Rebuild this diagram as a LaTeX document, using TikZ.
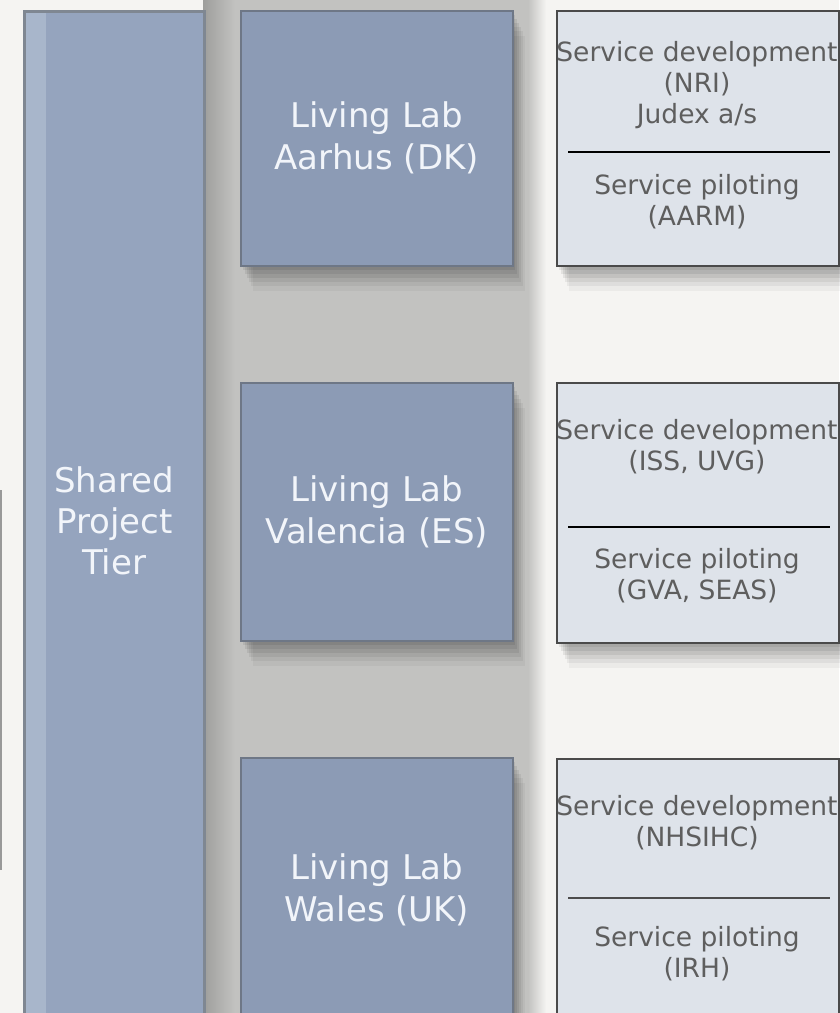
\documentclass[tikz,border=0pt]{standalone}
\usepackage{fontspec}
\setmainfont{DejaVu Sans}
\usetikzlibrary{shadows}
\definecolor{bgc}{HTML}{F5F4F2}
\definecolor{bandc}{HTML}{C2C2C0}
\definecolor{bandshade}{HTML}{9E9E9C}
\definecolor{sharedfill}{HTML}{95A4BE}
\definecolor{sharedstrip}{HTML}{A8B6CB}
\definecolor{sharededge}{HTML}{7F8792}
\definecolor{labfill}{HTML}{8C9BB5}
\definecolor{labedge}{HTML}{6E7786}
\definecolor{svcfill}{HTML}{DEE3EA}
\definecolor{svcedge}{HTML}{4A4A4A}
\definecolor{svctext}{HTML}{5E5E5E}
\definecolor{labtext}{HTML}{F2F5FA}
\tikzset{
  softshadow/.style={
    drop shadow={shadow xshift=2pt, shadow yshift=-4pt, opacity=0.07, fill=black},
    drop shadow={shadow xshift=4pt, shadow yshift=-8pt, opacity=0.07, fill=black},
    drop shadow={shadow xshift=6pt, shadow yshift=-12pt, opacity=0.07, fill=black},
    drop shadow={shadow xshift=8pt, shadow yshift=-16pt, opacity=0.06, fill=black},
    drop shadow={shadow xshift=10pt, shadow yshift=-20pt, opacity=0.05, fill=black},
    drop shadow={shadow xshift=12pt, shadow yshift=-25pt, opacity=0.04, fill=black}},
  sharedbox/.style={draw=sharededge, line width=2.5pt, fill=sharedfill,
    text=labtext, align=center, inner sep=0pt,
    font=\fontsize{34}{41}\selectfont, anchor=north west},
  labbox/.style={draw=labedge, line width=1.5pt, fill=labfill, softshadow,
    text=labtext, align=center, inner sep=0pt,
    font=\fontsize{34}{42}\selectfont, anchor=north west, minimum width=272pt},
  svcbox/.style={draw=svcedge, line width=1.5pt, fill=svcfill, softshadow,
    anchor=north west, minimum width=282pt, inner sep=0pt},
  svctxt/.style={text=svctext, align=center, inner sep=0pt,
    font=\fontsize{26.5}{31}\selectfont},
  divider/.style={draw=black, line width=2pt}
}
\begin{document}
\begin{tikzpicture}[x=1pt, y=-1pt]
\useasboundingbox (0,0) rectangle (839,1013);
\fill[bgc] (0,0) rectangle (839,1013);
% middle gray band
\fill[bandc] (205,0) rectangle (530,1013);
\shade[left color=bandshade, right color=bandc] (203,0) rectangle (235,1013);
\shade[left color=bandc, right color=bgc] (528,0) rectangle (546,1013);
% cropped mark at left edge
\draw[gray!80, line width=1.5pt] (0.8,490) -- (0.8,870);

% shared project tier column
\node[sharedbox, minimum width=180pt, minimum height=1020pt] (shared) at (23,10) {};
\fill[sharedstrip] (25.5,12.5) rectangle (46,1013);
\node[text=labtext, align=center, font=\fontsize{34}{41}\selectfont] (sharedtxt) at (shared.center) {Shared\\Project\\Tier};

% living lab boxes
\node[labbox, minimum height=255pt] (aarhus) at (240,10) {Living Lab\\Aarhus (DK)};
\node[labbox, minimum height=258pt] (valencia) at (240,382) {Living Lab\\Valencia (ES)};
\node[labbox, minimum height=265pt] (wales) at (240,757) {Living Lab\\Wales (UK)};

% service boxes
\node[svcbox, minimum height=255pt] (aarR) at (556,10) {};
\node[svcbox, minimum height=260pt] (valR) at (556,382) {};
\node[svcbox, minimum height=265pt] (walR) at (556,758) {};

\coordinate (aarD1) at (568,152); \coordinate (aarD2) at (830,152);
\coordinate (valD1) at (568,527); \coordinate (valD2) at (830,527);
\coordinate (walD1) at (568,898); \coordinate (walD2) at (830,898);
\draw[divider] (aarD1) -- (aarD2);
\draw[divider] (valD1) -- (valD2);
\draw[divider, draw=black!70] (walD1) -- (walD2);

\node[svctxt] (aarDev) at (697,85) {Service development\\(NRI)\\Judex a/s};
\node[svctxt] (aarPil) at (697,202) {Service piloting\\(AARM)};
\node[svctxt] (valDev) at (697,447) {Service development\\(ISS, UVG)};
\node[svctxt] (valPil) at (697,576) {Service piloting\\(GVA, SEAS)};
\node[svctxt] (walDev) at (697,823) {Service development\\(NHSIHC)};
\node[svctxt] (walPil) at (697,954) {Service piloting\\(IRH)};
\end{tikzpicture}
\end{document}
